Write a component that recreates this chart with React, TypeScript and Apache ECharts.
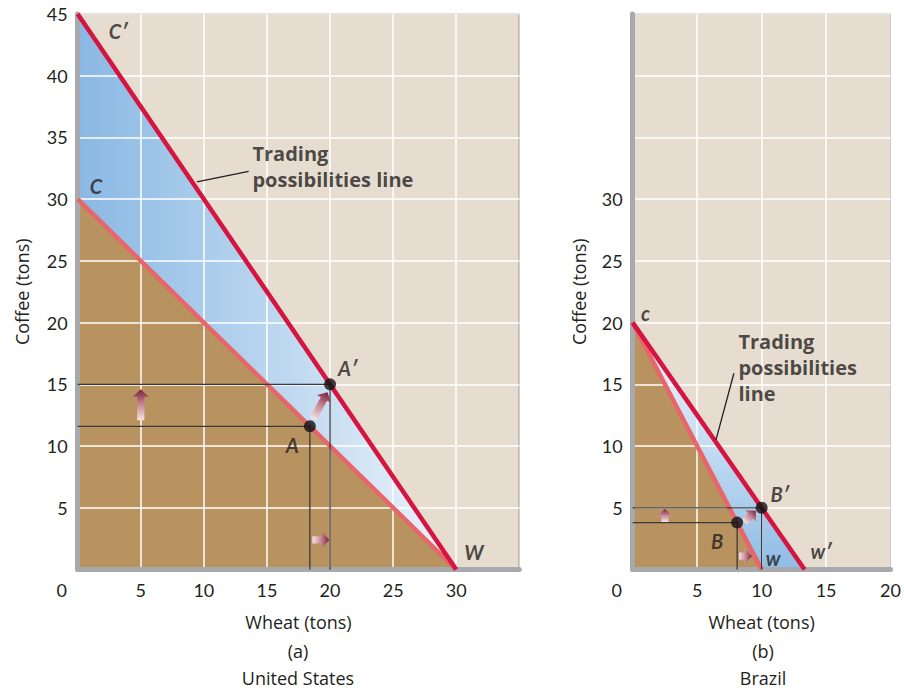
import React, { useEffect, useRef } from "react";
import * as echarts from "echarts";

// ---------- Data ----------
// United States (panel a)
const usWheatRange = [0, 35];
const usCoffeeRange = [0, 45];
const usPPF = [[0, 30], [30, 0]]; // production possibilities C–W
const usTPL = [[0, 45], [30, 0]]; // trading possibilities C'–W
const usA = [18.4, 11.6];
const usA2 = [20, 15];
const usArrows = [
  [5, 12.1, 5, 14.6],
  [18.6, 2.4, 19.95, 2.4],
  [18.65, 12.2, 19.8, 14.35],
];
const usLabels = [
  { name: "C′", pos: [3.2, 43.6] },
  { name: "C", pos: [1.45, 31.1] },
  { name: "W", pos: [31.4, 1.4] },
  { name: "A′", pos: [21.4, 16.3] },
  { name: "A", pos: [17.0, 10.1] },
];
const usLeader = [[9.45, 31.4], [13.55, 32.25]];
const usTradeLabelPos = [13.85, 34.75];

// Brazil (panel b)
const brWheatRange = [0, 20];
const brCoffeeRange = [0, 45];
const brPPF = [[0, 20], [10, 0]];
const brTPL = [[0, 20], [13.33, 0]];
const brB = [8.1, 3.8];
const brB2 = [10, 5];
const brArrows = [
  [2.5, 3.85, 2.5, 4.9],
  [8.25, 1.08, 9.25, 1.08],
  [8.65, 3.85, 9.55, 4.75],
];
const brLabels = [
  { name: "c", pos: [1.0, 20.75] },
  { name: "B′", pos: [11.4, 6.1] },
  { name: "B", pos: [6.55, 2.3] },
  { name: "w", pos: [10.9, 0.95] },
  { name: "w′", pos: [14.6, 1.5] },
];
const brLeader = [[6.46, 10.5], [7.85, 15.9]];
const brTradeLabelPos = [8.2, 19.55];

const tradeText = "Trading\npossibilities line";
const tradeTextBr = "Trading\npossibilities\nline";

// ---------- Styles ----------
const FONT = "Lato, 'Open Sans', sans-serif";
const FONT2 = "'Open Sans', Lato, sans-serif";
const INK = "#231f20";
const BEIGE = "#e6ddd0";
const BROWN = "#b9935f";
const SALMON = "#e8666b";
const CRIMSON = "#d5143f";
const AXISGRAY = "#a7a9ac";

function arrowRender(params: any, api: any) {
  const p1 = api.coord([api.value(0), api.value(1)]);
  const p2 = api.coord([api.value(2), api.value(3)]);
  const dx = p2[0] - p1[0];
  const dy = p2[1] - p1[1];
  const len = Math.hypot(dx, dy) || 1;
  const ux = dx / len, uy = dy / len;
  const nx = -uy, ny = ux;
  const hw = 3.6, hh = 8, hl = 7.5;
  const bx = p2[0] - ux * hl, by = p2[1] - uy * hl;
  const pts = [
    [p1[0] + nx * hw, p1[1] + ny * hw],
    [bx + nx * hw, by + ny * hw],
    [bx + nx * hh, by + ny * hh],
    [p2[0], p2[1]],
    [bx - nx * hh, by - ny * hh],
    [bx - nx * hw, by - ny * hw],
    [p1[0] - nx * hw, p1[1] - ny * hw],
  ];
  return {
    type: "polygon",
    shape: { points: pts },
    style: {
      fill: new echarts.graphic.LinearGradient(
        p1[0], p1[1], p2[0], p2[1],
        [
          { offset: 0, color: "#f7e2e4" },
          { offset: 0.55, color: "#c27f8c" },
          { offset: 1, color: "#7a1c3c" },
        ],
        true
      ),
    },
  };
}

function panelSeries(
  idx: number,
  ppf: number[][],
  tpl: number[][],
  p: number[],
  p2: number[],
  arrows: number[][],
  labels: { name: string; pos: number[] }[],
  leader: number[][],
  tradePos: number[],
  trade: string,
  blueGrad: any
) {
  const ax = { xAxisIndex: idx, yAxisIndex: idx };
  const helper = (pt: number[]) => ({
    type: "line",
    ...ax,
    data: [[0, pt[1]], [pt[0], pt[1]], [pt[0], 0]],
    showSymbol: false,
    lineStyle: { color: "#3a3a3a", width: 1.3 },
    z: 4,
    silent: true,
  });
  return [
    {
      type: "line",
      ...ax,
      data: tpl,
      showSymbol: false,
      lineStyle: { width: 0 },
      areaStyle: { color: blueGrad, opacity: 1 },
      z: 1,
      silent: true,
    },
    {
      type: "line",
      ...ax,
      data: ppf,
      showSymbol: false,
      lineStyle: { width: 0 },
      areaStyle: { color: BROWN, opacity: 1 },
      z: 1,
      silent: true,
    },
    helper(p),
    helper(p2),
    {
      type: "line",
      ...ax,
      data: ppf,
      showSymbol: false,
      lineStyle: { color: SALMON, width: 4.5 },
      z: 3,
      silent: true,
    },
    {
      type: "line",
      ...ax,
      data: tpl,
      showSymbol: false,
      lineStyle: { color: CRIMSON, width: 4.5 },
      z: 3,
      silent: true,
    },
    {
      type: "line",
      ...ax,
      data: leader,
      showSymbol: false,
      lineStyle: { color: INK, width: 1.3 },
      z: 4,
      silent: true,
    },
    {
      type: "scatter",
      ...ax,
      data: [p, p2],
      symbolSize: 12,
      itemStyle: { color: "#111" },
      z: 6,
      silent: true,
    },
    {
      type: "custom",
      ...ax,
      data: arrows,
      encode: { x: [0, 2], y: [1, 3] },
      renderItem: arrowRender,
      z: 5,
      silent: true,
    },
    {
      type: "scatter",
      ...ax,
      symbolSize: 0,
      data: labels.map((l) => ({ name: l.name, value: l.pos })),
      label: {
        show: true,
        position: "inside",
        formatter: "{b}",
        fontFamily: FONT,
        fontSize: 20,
        fontWeight: "bold",
        fontStyle: "italic",
        color: INK,
      },
      z: 7,
      silent: true,
    },
    {
      type: "scatter",
      ...ax,
      symbolSize: 0,
      data: [{ name: trade, value: tradePos }],
      label: {
        show: true,
        position: [0, 0],
        align: "left",
        verticalAlign: "top",
        formatter: "{b}",
        fontFamily: FONT2,
        fontSize: 20,
        fontWeight: "bold",
        lineHeight: 26,
        color: INK,
      },
      z: 7,
      silent: true,
    },
  ];
}

function makeXAxis(idx: number, range: number[], hideMax: boolean) {
  return {
    type: "value",
    gridIndex: idx,
    min: range[0],
    max: range[1],
    interval: 5,
    z: 2,
    axisLine: { show: true, onZero: false, lineStyle: { color: AXISGRAY, width: 5 } },
    axisTick: { show: false },
    splitLine: { show: true, lineStyle: { color: "#ffffff", width: 1.5 } },
    axisLabel: {
      color: INK,
      fontFamily: FONT,
      fontSize: 18,
      margin: 11,
      formatter: (v: number) =>
        v === 0 ? "{z|0}" : hideMax && v === range[1] ? "" : String(v),
      rich: { z: { padding: [0, 32, 0, 0], fontFamily: FONT, fontSize: 18, color: INK } },
    },
    name: "Wheat (tons)",
    nameLocation: "middle",
    nameGap: 43,
    nameTextStyle: { color: INK, fontFamily: FONT2, fontSize: 18 },
  };
}

function makeYAxis(idx: number, range: number[], showMin: number, showMax: number, gap: number) {
  return {
    type: "value",
    gridIndex: idx,
    min: range[0],
    max: range[1],
    interval: 5,
    z: 2,
    axisLine: { show: true, onZero: false, lineStyle: { color: AXISGRAY, width: 5 } },
    axisTick: { show: false },
    splitLine: { show: true, lineStyle: { color: "#ffffff", width: 1.5 } },
    axisLabel: {
      color: INK,
      fontFamily: FONT,
      fontSize: 18,
      margin: 10,
      formatter: (v: number) => (v >= showMin && v <= showMax ? String(v) : ""),
    },
    name: "Coffee (tons)",
    nameLocation: "middle",
    nameGap: gap,
    nameTextStyle: { color: INK, fontFamily: FONT2, fontSize: 18 },
  };
}

export default function App() {
  const ref = useRef<HTMLDivElement>(null);
  useEffect(() => {
    if (!ref.current) return;
    const chart = echarts.init(ref.current, null, { renderer: "svg" });
    const usBlue = new echarts.graphic.LinearGradient(0, 0, 1, 0, [
      { offset: 0, color: "#8ab8e3" },
      { offset: 0.6, color: "#c3dbf1" },
      { offset: 1, color: "#eef4fb" },
    ]);
    const brBlue = new echarts.graphic.LinearGradient(0, 0, 0, 1, [
      { offset: 0, color: "#f1f6fc" },
      { offset: 0.5, color: "#c4dcf2" },
      { offset: 1, color: "#8fbce6" },
    ]);
    const gridCommon = {
      show: true,
      backgroundColor: BEIGE,
      borderColor: "#2a2a2a",
      borderWidth: 1,
      containLabel: false,
    };
    const titleFont = `18px ${FONT2}`;
    const option: any = {
      animation: false,
      backgroundColor: "#ffffff",
      textStyle: { fontFamily: FONT },
      grid: [
        { ...gridCommon, left: 77.7, top: 14, width: 441.6, height: 555.5 },
        { ...gridCommon, left: 632.7, top: 14, width: 260, height: 555.5 },
      ],
      xAxis: [makeXAxis(0, usWheatRange, true), makeXAxis(1, brWheatRange, false)],
      yAxis: [
        makeYAxis(0, usCoffeeRange, 5, 45, 47),
        makeYAxis(1, brCoffeeRange, 5, 30, 45),
      ],
      series: [
        ...panelSeries(0, usPPF, usTPL, usA, usA2, usArrows, usLabels, usLeader, usTradeLabelPos, tradeText, usBlue),
        ...panelSeries(1, brPPF, brTPL, brB, brB2, brArrows, brLabels, brLeader, brTradeLabelPos, tradeTextBr, brBlue),
      ],
      graphic: [
        { type: "text", x: 298, y: 651, style: { text: "(a)", align: "center", verticalAlign: "middle", font: titleFont, fill: INK } },
        { type: "text", x: 298, y: 678, style: { text: "United States", align: "center", verticalAlign: "middle", font: titleFont, fill: INK } },
        { type: "text", x: 763, y: 651, style: { text: "(b)", align: "center", verticalAlign: "middle", font: titleFont, fill: INK } },
        { type: "text", x: 763, y: 678, style: { text: "Brazil", align: "center", verticalAlign: "middle", font: titleFont, fill: INK } },
      ],
    };
    chart.setOption(option);
    return () => chart.dispose();
  }, []);
  return (
    <div
      ref={ref}
      style={{ position: "fixed", left: 0, top: 0, width: 904, height: 692, background: "#fff" }}
    />
  );
}
